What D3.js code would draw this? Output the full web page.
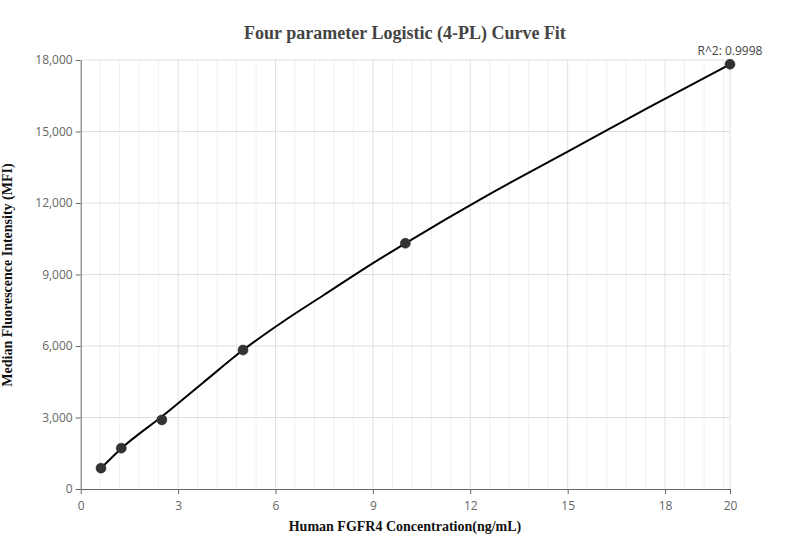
<!DOCTYPE html>
<html><head><meta charset="utf-8">
<script src="https://cdn.jsdelivr.net/npm/d3@7"></script>
<style>body{margin:0;background:#fff}svg{display:block}</style>
</head><body>
<svg id="c" width="811" height="560"></svg>
<script>
const concentrations = [0.625, 1.25, 2.5, 5, 10, 20];
const mfiValues = [875, 1715, 2900, 5830, 10310, 17820];
const curveX = [0.625, 1.25, 2.5, 3.75, 5, 6.25, 7.5, 8.75, 10, 12.5, 15, 17.5, 20];
const curveY = [868, 1700, 3040, 4440, 5830, 7040, 8150, 9260, 10309, 12300, 14152, 16010, 17820];
const xTicks = [0, 3, 6, 9, 12, 15, 18, 20];
const yTicks = [0, 3000, 6000, 9000, 12000, 15000, 18000];
const titleText = "Four parameter Logistic (4-PL) Curve Fit";
const xTitle = "Human FGFR4 Concentration(ng/mL)";
const yTitle = "Median Fluorescence Intensity (MFI)";
const r2Text = "R^2: 0.9998";

const svg = d3.select("#c");
const L = 80.7, R = 730, T = 60, B = 489;
const x = d3.scaleLinear().domain([0, 20]).range([L, R]);
const y = d3.scaleLinear().domain([0, 18000]).range([B, T]);

const minor = d3.range(0, 20.001, 0.6).filter(v => Math.abs(v/3 - Math.round(v/3)) > 1e-6);
svg.append("g").selectAll("line").data(minor).join("line")
  .attr("x1", d => x(d)).attr("x2", d => x(d)).attr("y1", T).attr("y2", B)
  .attr("stroke", "#f0f0f0").attr("stroke-width", 1);
svg.append("g").selectAll("line").data(xTicks.filter(d => d > 0)).join("line")
  .attr("x1", d => x(d)).attr("x2", d => x(d)).attr("y1", T).attr("y2", B)
  .attr("stroke", "#e0e0e0").attr("stroke-width", 1);
svg.append("g").selectAll("line").data(yTicks.filter(d => d > 0)).join("line")
  .attr("x1", L).attr("x2", R).attr("y1", d => y(d)).attr("y2", d => y(d))
  .attr("stroke", "#e0e0e0").attr("stroke-width", 1);

const xAxis = svg.append("g").attr("transform", `translate(0,${B})`)
  .call(d3.axisBottom(x).tickValues(xTicks).tickSize(5).tickSizeOuter(0).tickFormat(d3.format("d")));
const yAxis = svg.append("g").attr("transform", `translate(${L},0)`)
  .call(d3.axisLeft(y).tickValues(yTicks).tickSize(5).tickSizeOuter(0).tickFormat(d3.format(",")));
[xAxis, yAxis].forEach(a => {
  a.select(".domain").attr("stroke", "#666");
  a.selectAll(".tick line").attr("stroke", "#666");
  a.selectAll(".tick text").attr("fill", "#666").attr("font-family", "'Open Sans', sans-serif").attr("font-size", 12);
});
xAxis.selectAll(".tick text").attr("dy", "1.1em");

const pts = curveX.map((v, i) => [v, curveY[i]]);
svg.append("path").datum(pts)
  .attr("d", d3.line().x(d => x(d[0])).y(d => y(d[1])).curve(d3.curveMonotoneX))
  .attr("fill", "none").attr("stroke", "#000").attr("stroke-width", 2);

svg.append("g").selectAll("circle").data(concentrations).join("circle")
  .attr("cx", d => x(d)).attr("cy", (d, i) => y(mfiValues[i])).attr("r", 5)
  .attr("fill", "#333").attr("stroke", "#222").attr("stroke-width", 0.5);

svg.append("text").attr("x", 405).attr("y", 39).attr("text-anchor", "middle")
  .attr("font-family", "'Liberation Serif', 'Times New Roman', serif").attr("font-weight", "bold")
  .attr("font-size", 18).attr("fill", "#444").text(titleText);
svg.append("text").attr("x", 405).attr("y", 531).attr("text-anchor", "middle")
  .attr("font-family", "'Liberation Serif', 'Times New Roman', serif").attr("font-weight", "bold")
  .attr("font-size", 14).attr("fill", "#111").text(xTitle);
svg.append("text").attr("transform", "translate(12,275) rotate(-90)").attr("text-anchor", "middle")
  .attr("font-family", "'Liberation Serif', 'Times New Roman', serif").attr("font-weight", "bold")
  .attr("font-size", 14).attr("fill", "#111").text(yTitle);
svg.append("text").attr("x", x(20)).attr("y", y(17820) - 9).attr("text-anchor", "middle")
  .attr("font-family", "'Open Sans', sans-serif").attr("font-size", 12).attr("fill", "#444").text(r2Text);
</script>
</body></html>
